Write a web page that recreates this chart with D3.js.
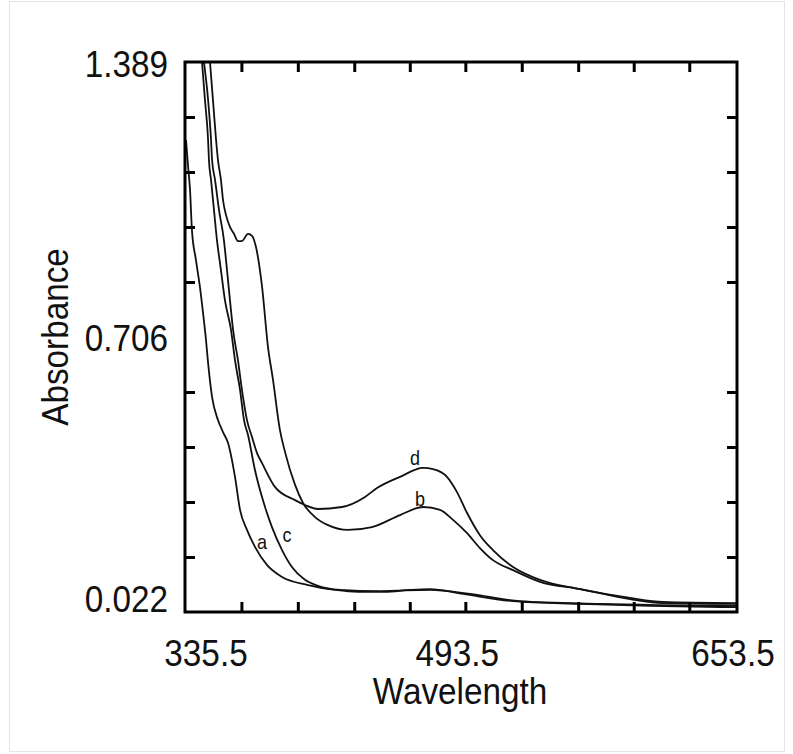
<!DOCTYPE html>
<html><head><meta charset="utf-8">
<script src="https://cdn.jsdelivr.net/npm/d3@7/dist/d3.min.js"></script>
<style>
html,body{margin:0;padding:0;background:#fff;}
svg{display:block;font-family:"Liberation Sans",Arial,sans-serif;}
</style></head>
<body><svg id="chart" width="793" height="754"></svg>
<script>
// ---- data (wavelength nm, absorbance) ----
const xDomain = [335.5, 653.5];
const yDomain = [0.022, 1.389];
const xTickLabels = [335.5, 493.5, 653.5];
const yTickLabels = [0.022, 0.706, 1.389];
const xMinorTicks = [368, 400.5, 433, 465, 497, 529.5, 562, 594, 626];
const yMinorTicks = [0.1587, 0.2954, 0.4321, 0.5688, 0.8422, 0.9789, 1.1156, 1.2523];

const seriesA = [[336.1,1.195],[337.2,1.133],[338.4,1.071],[339.5,0.971],[341.8,0.897],[344.1,0.830],[345.9,0.765],[347.6,0.698],[348.8,0.641],[351.1,0.556],[354.5,0.499],[357.4,0.469],[360.3,0.442],[364.3,0.358],[367.2,0.276],[371.2,0.226],[375.8,0.184],[382.7,0.139],[391.4,0.109],[406.4,0.089],[421.9,0.077],[435.2,0.072],[450.7,0.072],[465.1,0.077],[476.6,0.079],[495.7,0.067],[524.5,0.049],[563.1,0.042],[603.4,0.037],[653.5,0.034]];
const seriesB = [[349.9,1.389],[351.6,1.295],[353.4,1.195],[354.5,1.145],[356.2,1.096],[357.4,1.046],[359.1,1.009],[361.4,0.979],[363.7,0.962],[366.0,0.944],[368.3,0.944],[371.8,0.962],[374.1,0.957],[376.4,0.929],[379.9,0.830],[383.3,0.681],[386.2,0.599],[390.2,0.474],[393.1,0.420],[398.9,0.338],[403.5,0.293],[410.4,0.258],[417.9,0.238],[429.4,0.226],[443.2,0.233],[459.4,0.263],[472.6,0.283],[482.4,0.276],[489.9,0.251],[498.0,0.218],[505.4,0.181],[512.9,0.151],[524.5,0.126],[540.0,0.097],[563.1,0.079],[591.9,0.054],[610.9,0.044],[653.5,0.042]];
const seriesC = [[345.3,1.389],[347.0,1.295],[348.8,1.195],[349.3,1.145],[350.5,1.096],[352.2,1.021],[353.9,0.947],[356.2,0.872],[358.5,0.797],[362.0,0.723],[364.3,0.648],[367.2,0.574],[369.5,0.499],[371.8,0.462],[375.8,0.375],[381.6,0.283],[385.6,0.233],[391.4,0.176],[397.1,0.134],[404.6,0.102],[412.1,0.087],[424.8,0.077],[447.8,0.074],[476.6,0.077],[499.7,0.067],[528.5,0.049],[574.6,0.042],[653.5,0.037]];
const seriesD = [[346.4,1.389],[348.8,1.295],[350.5,1.195],[351.1,1.145],[352.8,1.096],[355.1,1.021],[357.9,0.947],[359.7,0.872],[361.4,0.797],[363.2,0.723],[366.0,0.648],[368.3,0.574],[371.2,0.499],[374.1,0.457],[377.0,0.417],[379.9,0.392],[387.3,0.333],[398.9,0.300],[404.6,0.288],[412.1,0.278],[425.9,0.283],[439.2,0.308],[446.1,0.330],[459.4,0.358],[472.6,0.380],[478.4,0.377],[486.4,0.358],[492.2,0.320],[498.0,0.268],[505.4,0.213],[512.9,0.176],[524.5,0.134],[540.0,0.102],[563.1,0.079],[591.9,0.057],[610.9,0.047],[653.5,0.044]];
const curveLabels = [
  {text:"a", x:379.9, y:0.196},
  {text:"c", x:394.3, y:0.213},
  {text:"d", x:468.0, y:0.405},
  {text:"b", x:470.9, y:0.302}
];

// ---- layout ----
const svg = d3.select("#chart");
const L = 185, R = 737, T = 62, B = 612;
const x = d3.scaleLinear().domain(xDomain).range([L, R]);
const y = d3.scaleLinear().domain(yDomain).range([B, T]);

// faint outer border
svg.append("rect").attr("x",9.5).attr("y",1.5).attr("width",775).attr("height",750)
  .attr("fill","none").attr("stroke","#c8c8c8").attr("stroke-width",1).attr("stroke-dasharray","1,1");

const clip = svg.append("defs").append("clipPath").attr("id","plotclip");
clip.append("rect").attr("x",L).attr("y",T).attr("width",R-L).attr("height",B-T);

// curves
const line = d3.line().x(d=>x(d[0])).y(d=>y(d[1])).curve(d3.curveMonotoneX);
const g = svg.append("g").attr("clip-path","url(#plotclip)");
[seriesA, seriesB, seriesC, seriesD].forEach(s=>{
  g.append("path").attr("d", line(s)).attr("fill","none")
   .attr("stroke","#111").attr("stroke-width",1.8).attr("stroke-linejoin","round");
});

// axes with inward ticks
const tickLen = 10;
const axes = svg.append("g");
axes.append("g").attr("transform",`translate(0,${B})`)
  .call(d3.axisBottom(x).tickValues(xMinorTicks).tickSize(-tickLen).tickFormat(""));
axes.append("g").attr("transform",`translate(0,${T})`)
  .call(d3.axisTop(x).tickValues(xMinorTicks).tickSize(-tickLen).tickFormat(""));
axes.append("g").attr("transform",`translate(${L},0)`)
  .call(d3.axisLeft(y).tickValues(yMinorTicks).tickSize(-tickLen).tickFormat(""));
axes.append("g").attr("transform",`translate(${R},0)`)
  .call(d3.axisRight(y).tickValues(yMinorTicks).tickSize(-tickLen).tickFormat(""));
axes.selectAll(".domain").remove();
axes.selectAll(".tick line").attr("stroke","#000").attr("stroke-width",3);

svg.append("rect").attr("x",L).attr("y",T).attr("width",R-L).attr("height",B-T)
  .attr("fill","none").attr("stroke","#000").attr("stroke-width",3);

// tick labels (tall, slightly condensed type)
const fs = 37, sx = 0.9;
const yOff = [-13, 1, 2];
svg.append("g").selectAll("text").data(yTickLabels).join("text")
  .attr("transform", (d,i)=>`translate(${L-17},${y(d)+yOff[i]}) scale(${sx},1)`)
  .attr("dy","0.36em")
  .attr("text-anchor","end").attr("font-size",fs).attr("fill","#111")
  .text(d=>d3.format(".3f")(d));
const xOff = [21, -2, -4];
svg.append("g").selectAll("text").data(xTickLabels).join("text")
  .attr("transform", (d,i)=>`translate(${x(d)+xOff[i]},${B+54}) scale(${sx},1)`)
  .attr("text-anchor","middle").attr("font-size",fs).attr("fill","#111")
  .text(d=>d3.format(".1f")(d));

// axis titles
svg.append("text").attr("transform",`translate(${(L+R)/2 - 1},${B+92}) scale(${sx},1)`)
  .attr("text-anchor","middle")
  .attr("font-size",fs).attr("fill","#111").text("Wavelength");
svg.append("text").attr("transform",`translate(68,${(T+B)/2}) rotate(-90) scale(${sx},1)`)
  .attr("text-anchor","middle").attr("font-size",fs).attr("fill","#111").text("Absorbance");

// curve labels
svg.append("g").selectAll("text").data(curveLabels).join("text")
  .attr("transform", d=>`translate(${x(d.x)},${y(d.y)}) scale(0.9,1)`)
  .attr("dy","0.35em")
  .attr("text-anchor","middle").attr("font-size",20).attr("fill","#111")
  .text(d=>d.text);
</script></body></html>
